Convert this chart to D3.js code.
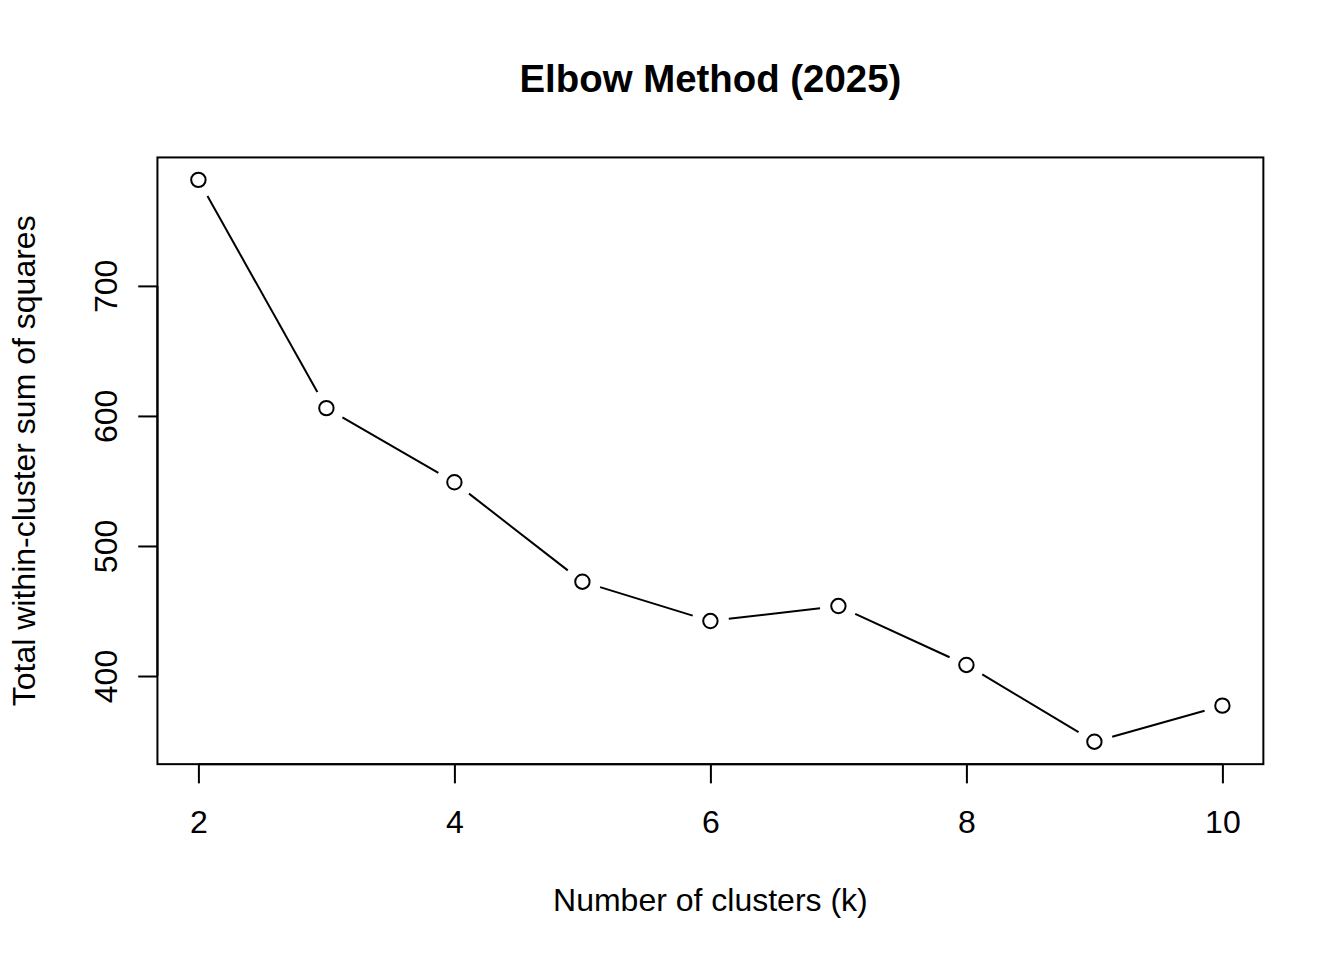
<!DOCTYPE html>
<html>
<head>
<meta charset="utf-8">
<script src="https://cdn.jsdelivr.net/npm/d3@7"></script>
<style>
  html, body { margin: 0; padding: 0; background: #fff; }
  svg { display: block; font-family: "Liberation Sans", Arial, Helvetica, sans-serif; }
</style>
</head>
<body>
<svg id="chart" width="1344" height="960"></svg>
<script>
// ---- data ----
const clusters = [2, 3, 4, 5, 6, 7, 8, 9, 10];
const wss = [781.5, 606, 549, 472.5, 442.3, 453.8, 408.5, 349.5, 377.2];
const xTicks = [2, 4, 6, 8, 10];
const yTicks = [400, 500, 600, 700];
const titleText = "Elbow Method (2025)";
const xLabel = "Number of clusters (k)";
const yLabel = "Total within-cluster sum of squares";

// ---- layout (R-like, 192 dpi) ----
const W = 1344, H = 960;
const lineH = 38.4;
const margin = { top: 4.1 * lineH, right: 2.1 * lineH, bottom: 5.1 * lineH, left: 4.1 * lineH };
const x0 = margin.left, x1 = W - margin.right;
const y0 = margin.top, y1 = H - margin.bottom;

function pad(ext) { const r = ext[1] - ext[0]; return [ext[0] - 0.04 * r, ext[1] + 0.04 * r]; }

const x = d3.scaleLinear().domain(pad(d3.extent(clusters))).range([x0, x1]);
const y = d3.scaleLinear().domain(pad(d3.extent(wss))).range([y1, y0]);

const svg = d3.select("#chart");
svg.append("rect").attr("width", W).attr("height", H).attr("fill", "#fff");

// box
svg.append("rect")
  .attr("x", x0).attr("y", y0).attr("width", x1 - x0).attr("height", y1 - y0)
  .attr("fill", "none").attr("stroke", "#000").attr("stroke-width", 2);

// axes
const xAxis = d3.axisBottom(x).tickValues(xTicks).tickSize(19.2).tickPadding(0).tickFormat(d3.format("d"));
const gx = svg.append("g").attr("transform", `translate(0,${y1})`).call(xAxis);
gx.select(".domain").attr("d", `M${x(xTicks[0])},0H${x(xTicks[xTicks.length-1])}`).attr("stroke-width", 2);
gx.selectAll(".tick line").attr("stroke-width", 2);
gx.selectAll(".tick text").attr("y", 69).attr("dy", null).attr("font-size", 32).attr("fill", "#000")
  .attr("font-family", '"Liberation Sans", Arial, sans-serif');

const yAxis = d3.axisLeft(y).tickValues(yTicks).tickSize(19.2).tickPadding(0).tickFormat(d3.format("d"));
const gy = svg.append("g").attr("transform", `translate(${x0},0)`).call(yAxis);
gy.select(".domain").attr("d", `M0,${y(yTicks[0])}V${y(yTicks[yTicks.length-1])}`).attr("stroke-width", 2);
gy.selectAll(".tick line").attr("stroke-width", 2);
gy.selectAll(".tick text")
  .attr("x", null).attr("dy", null)
  .attr("transform", "translate(-40.5,0) rotate(-90)")
  .attr("text-anchor", "middle")
  .attr("font-size", 32).attr("fill", "#000")
  .attr("font-family", '"Liberation Sans", Arial, sans-serif');

// line segments with gaps (type = "b")
const gap = 18.5;
const pts = clusters.map((c, i) => [x(c), y(wss[i])]);
const segs = [];
for (let i = 0; i < pts.length - 1; i++) {
  const [ax, ay] = pts[i], [bx, by] = pts[i + 1];
  const dx = bx - ax, dy = by - ay, L = Math.hypot(dx, dy);
  if (L > 2 * gap) {
    const ux = dx / L, uy = dy / L;
    segs.push([ax + ux * gap, ay + uy * gap, bx - ux * gap, by - uy * gap]);
  }
}
svg.append("g").selectAll("line").data(segs).join("line")
  .attr("x1", d => d[0]).attr("y1", d => d[1]).attr("x2", d => d[2]).attr("y2", d => d[3])
  .attr("stroke", "#000").attr("stroke-width", 2);

svg.append("g").selectAll("circle").data(clusters).join("circle")
  .attr("cx", d => x(d)).attr("cy", (d, i) => y(wss[i])).attr("r", 7.2)
  .attr("fill", "none").attr("stroke", "#000").attr("stroke-width", 2);

// title and labels
svg.append("text").attr("x", (x0 + x1) / 2).attr("y", 92).attr("text-anchor", "middle")
  .attr("font-size", 38.4).attr("font-weight", "bold").text(titleText);
svg.append("text").attr("x", (x0 + x1) / 2).attr("y", 911).attr("text-anchor", "middle")
  .attr("font-size", 32).text(xLabel);
svg.append("text").attr("transform", `translate(35,${(y0 + y1) / 2}) rotate(-90)`).attr("text-anchor", "middle")
  .attr("font-size", 32).text(yLabel);
</script>
</body>
</html>
